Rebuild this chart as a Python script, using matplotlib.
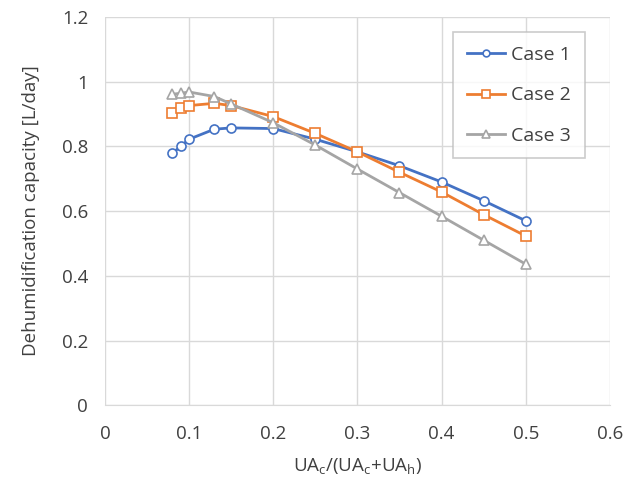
import matplotlib.pyplot as plt

# x values: UA_c / (UA_c + UA_h)
ratio = [0.08, 0.09, 0.10, 0.13, 0.15, 0.20, 0.25, 0.30, 0.35, 0.40, 0.45, 0.50]

# dehumidification capacity [L/day]
case1 = [0.778, 0.800, 0.822, 0.853, 0.857, 0.855, 0.822, 0.783, 0.740, 0.690, 0.632, 0.570]
case2 = [0.902, 0.918, 0.926, 0.933, 0.926, 0.892, 0.840, 0.783, 0.720, 0.659, 0.589, 0.523]
case3 = [0.961, 0.964, 0.968, 0.954, 0.931, 0.873, 0.804, 0.730, 0.657, 0.584, 0.510, 0.436]

plt.rcParams['font.family'] = ['Open Sans', 'DejaVu Sans']
txt = '#404040'

fig = plt.figure(figsize=(6.32, 4.83), dpi=100)
ax = fig.add_axes([0.166, 0.161, 0.799, 0.804])

ax.plot(ratio, case1, '-o', color='#4472c4', lw=2, ms=6.5, mfc='white', mew=1.2, label='Case 1')
ax.plot(ratio, case2, '-s', color='#ed7d31', lw=2, ms=7, mfc='white', mew=1.2, label='Case 2')
ax.plot(ratio, case3, '-^', color='#a5a5a5', lw=2, ms=7, mfc='white', mew=1.2, label='Case 3')

ax.set_xlim(0, 0.6)
ax.set_ylim(0, 1.2)
ax.set_xticks([0, 0.1, 0.2, 0.3, 0.4, 0.5, 0.6])
ax.set_xticklabels(['0', '0.1', '0.2', '0.3', '0.4', '0.5', '0.6'])
ax.set_yticks([0, 0.2, 0.4, 0.6, 0.8, 1.0, 1.2])
ax.set_yticklabels(['0', '0.2', '0.4', '0.6', '0.8', '1', '1.2'])
ax.grid(True, color='#d9d9d9', lw=1)
ax.set_axisbelow(True)
for s in ax.spines.values():
    s.set_visible(False)
ax.spines['bottom'].set_visible(True)
ax.spines['bottom'].set_color('#d9d9d9')
ax.tick_params(axis='x', length=0, labelsize=13.5, colors=txt, pad=14)
ax.tick_params(axis='y', length=0, labelsize=13.5, colors=txt, pad=12)

ax.set_xlabel('UA$_\\mathregular{c}$/(UA$_\\mathregular{c}$+UA$_\\mathregular{h}$)', fontsize=13.5, color=txt, labelpad=10)
ax.set_ylabel('Dehumidification capacity [L/day]', fontsize=13.5, color=txt, labelpad=16)

leg = ax.legend(loc='upper left', bbox_to_anchor=(0.67, 0.985), fontsize=14, frameon=True,
                fancybox=False, edgecolor='#bfbfbf', labelspacing=1.15, handlelength=2.0,
                borderpad=0.7, handletextpad=0.3, markerscale=0.75)
leg.get_frame().set_linewidth(1.2)
for t in leg.get_texts():
    t.set_color(txt)

fig.savefig('out.png', dpi=100)
